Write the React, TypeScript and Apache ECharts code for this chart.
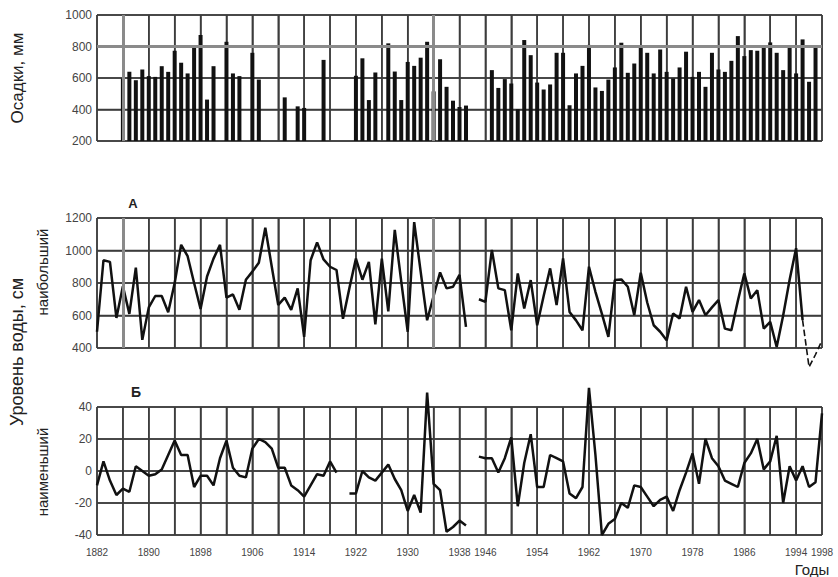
import { useEffect, useRef } from "react";
import * as echarts from "echarts";

// Categories: years (the war years 1942–1945 are absent from the record)
const years: string[] = [
  "1882","1883","1884","1885","1886","1887","1888","1889","1890","1891",
  "1892","1893","1894","1895","1896","1897","1898","1899","1900","1901",
  "1902","1903","1904","1905","1906","1907","1908","1909","1910","1911",
  "1912","1913","1914","1915","1916","1917","1918","1919","1920","1921",
  "1922","1923","1924","1925","1926","1927","1928","1929","1930","1931",
  "1932","1933","1934","1935","1936","1937","1938","1939","1940","1941",
  "1946","1947","1948","1949","1950","1951","1952","1953","1954","1955",
  "1956","1957","1958","1959","1960","1961","1962","1963","1964","1965",
  "1966","1967","1968","1969","1970","1971","1972","1973","1974","1975",
  "1976","1977","1978","1979","1980","1981","1982","1983","1984","1985",
  "1986","1987","1988","1989","1990","1991","1992","1993","1994","1995",
  "1996","1997","1998",
];

const yearLabels: string[] = [
  "1882","1890","1898","1906","1914","1922","1930","1938",
  "1946","1954","1962","1970","1978","1986","1994","1998",
];

// y tick values of the three panels
const precipTicks = [200, 400, 600, 800, 1000];
const maxTicks = [400, 600, 800, 1000, 1200];
const minTicks = [-40, -20, 0, 20, 40];

// Осадки, мм
const precipitation: (number | null)[] = [
  null, null, null, null, 597, 639, 586, 654, 612, 607,
  675, 639, 773, 697, 629, 798, 873, 463, 675, null,
  830, 629, 612, null, 760, 590, null, null, null, 477,
  null, 420, 410, null, null, 715, null, null, null, null,
  614, 725, 460, 635, null, 820, 641, 460, 702, 677,
  729, 830, 515, 719, 544, 456, 416, 425, null, null,
  null, 650, 537, 593, 565, 402, 841, 745, 571, 527,
  559, 760, 760, 427, 629, 677, 810, 540, 518, 590,
  667, 824, 633, 692, 803, 760, 629, 781, 639, 597,
  667, 767, 607, 639, 544, 760, 654, 639, 709, 866,
  739, 777, 773, 803, 826, 760, 650, 798, 629, 845,
  576, 803, null,
];

// Уровень воды наибольший, см
const levelMax: (number | null)[] = [
  500, 940, 930, 585, 780, 610, 895, 450, 650, 720,
  720, 620, 800, 1035, 965, 800, 640, 840, 950, 1035,
  710, 730, 635, 820, 870, 925, 1140, 900, 665, 710,
  635, 767, 468, 940, 1050, 945, 900, 880, 580, 770,
  950, 820, 930, 545, 950, 625, 1127, 810, 500, 1175,
  870, 571, 720, 865, 767, 777, 850, 530, null, 700,
  684, 1004, 767, 756, 509, 859, 643, 818, 540, 720,
  890, 664, 952, 622, 570, 509, 900, 746, 610, 468,
  818, 822, 777, 602, 863, 680, 540, 500, 447, 612,
  581, 777, 622, 695, 602, 650, 695, 519, 509, 690,
  859, 705, 756, 519, 561, 406, 600, 820, 1014, 571,
  283, 360, 447,
];
const levelMaxDashedFrom = 109;

// Уровень воды наименьший, см
const levelMin: (number | null)[] = [
  -9, 6, -6, -15, -11, -13, 3, 0, -3, -2,
  1, 10, 19, 10, 10, -10, -3, -3, -9, 8,
  19, 2, -3, -4, 14, 20, 18, 14, 2, 2,
  -9, -12, -16, -9, -2, -3, 6, -1, null, -14,
  -14, 0, -4, -6, -1, 4, -5, -12, -25, -15,
  -26, 49, -8, -12, -38, -35, -31, -34, null, 9,
  8, 8, -1, 8, 21, -22, 5, 23, -10, -10,
  10, 8, 6, -14, -17, -10, 52, 10, -40, -33,
  -30, -20, -23, -9, -10, -16, -22, -18, -16, -25,
  -12, -1, 11, -8, 20, 8, 3, -6, -8, -10,
  5, 11, 20, 1, 6, 22, -20, 3, -6, 3,
  -10, -7, 36,
];

const FONT = "'Liberation Sans', Arial, sans-serif";
const GRID_COLOR = "#3c3c3c";
const INK = "#111111";

const normalLine = { color: GRID_COLOR, width: 1.5, type: "solid", opacity: 1 };
const grayThick = { color: "#8a8a8a", width: 3, type: "solid", opacity: 1 };
const every4 = (i: number) => i % 4 === 0;

function xAxis(gridIndex: number, showLabels: boolean) {
  return {
    type: "category",
    gridIndex,
    data: years,
    boundaryGap: false,
    axisLine: { show: false },
    axisTick: { show: false, interval: every4 },
    axisLabel: showLabels
      ? {
          interval: (_i: number, v: string) => yearLabels.includes(v),
          fontSize: 10,
          color: "#444",
          margin: 12,
          fontFamily: FONT,
        }
      : { show: false },
    splitLine: { show: true, interval: every4, lineStyle: normalLine },
  };
}

function yAxis(gridIndex: number, ticks: number[]) {
  return {
    type: "value",
    gridIndex,
    min: ticks[0],
    max: ticks[ticks.length - 1],
    interval: ticks[1] - ticks[0],
    axisLine: { show: false },
    axisTick: { show: false },
    axisLabel: {
      fontSize: 12,
      color: "#444",
      margin: 5,
      fontFamily: FONT,
      formatter: (v: number) => String(v),
    },
    splitLine: { show: true, lineStyle: normalLine },
  };
}

// heavier gray grid lines of the original drawing
function heavyLines(y: number[], x: string[]) {
  return {
    silent: true,
    symbol: "none",
    label: { show: false },
    emphasis: { disabled: true },
    lineStyle: grayThick,
    data: [...y.map((v) => ({ yAxis: v })), ...x.map((c) => ({ xAxis: c }))],
  };
}

function vText(x: number, y: number, text: string, size: number) {
  return {
    type: "text",
    x,
    y,
    rotation: Math.PI / 2,
    style: {
      text,
      fontSize: size,
      fontFamily: FONT,
      fill: "#222",
      align: "center",
      verticalAlign: "middle",
    },
  };
}

const textGraphics: any[] = [
  vText(17, 78, "Осадки, мм", 17),
  vText(17, 352, "Уровень воды, см", 18),
  vText(42, 272, "наибольший", 15),
  vText(42, 472, "наименьший", 15),
  {
    type: "text",
    x: 133,
    y: 203,
    style: { text: "А", fontSize: 13, fontWeight: "bold", fontFamily: FONT, fill: "#222", align: "center", verticalAlign: "middle" },
  },
  {
    type: "text",
    x: 136,
    y: 392,
    style: { text: "Б", fontSize: 14, fontWeight: "bold", fontFamily: FONT, fill: "#222", align: "center", verticalAlign: "middle" },
  },
  {
    type: "text",
    x: 812,
    y: 569,
    style: { text: "Годы", fontSize: 15, fontFamily: FONT, fill: "#222", align: "center", verticalAlign: "middle" },
  },
];

export default function App() {
  const ref = useRef<HTMLDivElement>(null);

  useEffect(() => {
    if (!ref.current) return;
    const chart = echarts.init(ref.current, undefined, { renderer: "svg" });

    const maxSolid = levelMax.map((v, i) => (i <= levelMaxDashedFrom ? v : null));
    const maxDashed = levelMax.map((v, i) => (i >= levelMaxDashedFrom ? v : null));

    const gridBase = { left: 97, right: 16, show: false };

    const option: any = {
      animation: false,
      backgroundColor: "#fff",
      grid: [
        { ...gridBase, top: 15, height: 126 },
        { ...gridBase, top: 218, height: 130 },
        { ...gridBase, top: 407, height: 128 },
      ],
      xAxis: [xAxis(0, false), xAxis(1, false), xAxis(2, true)],
      yAxis: [yAxis(0, precipTicks), yAxis(1, maxTicks), yAxis(2, minTicks)],
      series: [
        {
          type: "bar",
          name: "Осадки",
          xAxisIndex: 0,
          yAxisIndex: 0,
          data: precipitation,
          barWidth: 4,
          itemStyle: { color: INK },
          markLine: heavyLines([800], ["1886", "1934"]),
          z: 3,
        },
        {
          type: "line",
          name: "наибольший",
          xAxisIndex: 1,
          yAxisIndex: 1,
          data: maxSolid,
          symbol: "none",
          clip: false,
          lineStyle: { color: INK, width: 2.5 },
          markLine: heavyLines([], ["1886", "1934"]),
          z: 3,
        },
        {
          type: "line",
          name: "наибольший (конец)",
          xAxisIndex: 1,
          yAxisIndex: 1,
          data: maxDashed,
          symbol: "none",
          clip: false,
          lineStyle: { color: INK, width: 1.6, type: "dashed" },
          z: 3,
        },
        {
          type: "line",
          name: "наименьший",
          xAxisIndex: 2,
          yAxisIndex: 2,
          data: levelMin,
          symbol: "none",
          clip: false,
          lineStyle: { color: INK, width: 2.5 },
          z: 3,
        },
      ],
      graphic: textGraphics,
    };

    chart.setOption(option);

    // Grid lines of every panel, placed through the axes' own scales.
    const tickSets = [precipTicks, maxTicks, minTicks];
    const lines: any[] = [];
    tickSets.forEach((ticks, k) => {
      const x0 = chart.convertToPixel({ xAxisIndex: k }, years[0]) as number;
      const x1 = chart.convertToPixel({ xAxisIndex: k }, years[years.length - 1]) as number;
      const yTop = chart.convertToPixel({ yAxisIndex: k }, ticks[ticks.length - 1]) as number;
      const yBot = chart.convertToPixel({ yAxisIndex: k }, ticks[0]) as number;
      const style = { stroke: GRID_COLOR, lineWidth: 1.5 };
      ticks.forEach((v) => {
        const y = chart.convertToPixel({ yAxisIndex: k }, v) as number;
        lines.push({ type: "line", z: 1, silent: true, shape: { x1: x0, y1: y, x2: x1, y2: y }, style });
      });
      years.forEach((yr, i) => {
        if (!every4(i)) return;
        const x = chart.convertToPixel({ xAxisIndex: k }, yr) as number;
        lines.push({ type: "line", z: 1, silent: true, shape: { x1: x, y1: yTop, x2: x, y2: yBot }, style });
      });
    });

    chart.setOption({ graphic: [...lines, ...textGraphics] }, { replaceMerge: ["graphic"] });

    return () => chart.dispose();
  }, []);

  return (
    <div
      ref={ref}
      style={{ position: "absolute", left: 0, top: 0, width: 838, height: 577 }}
    />
  );
}
